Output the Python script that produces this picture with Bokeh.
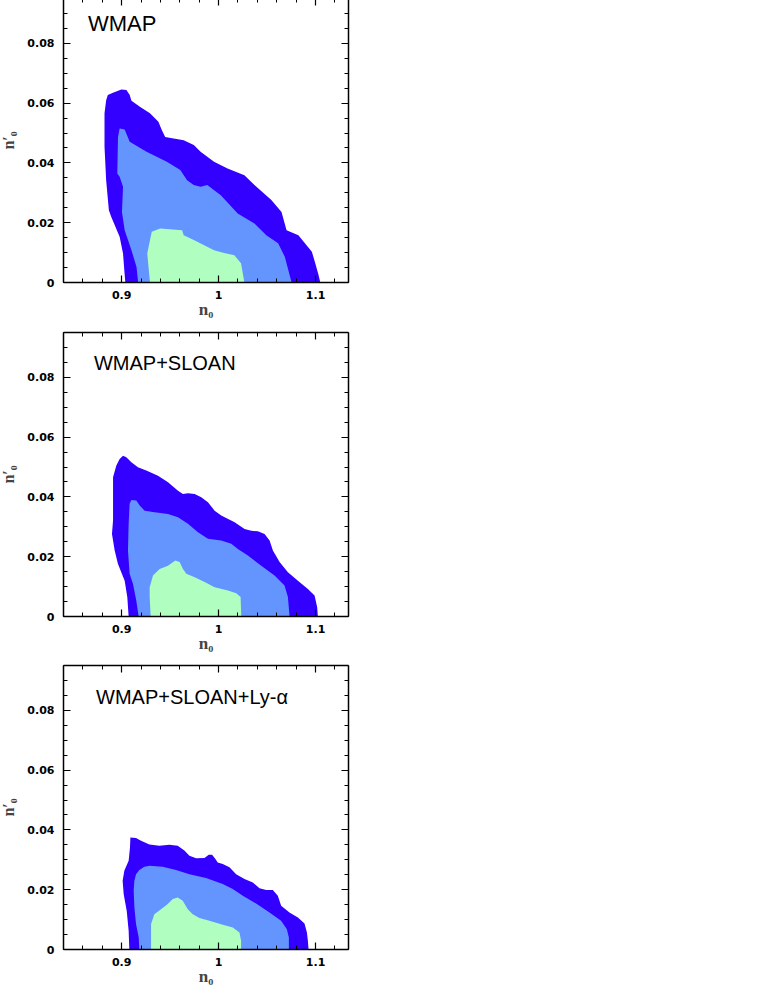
from bokeh.plotting import figure
from bokeh.models import LinearAxis, FixedTicker, CustomJSTickFormatter, Label, Range1d, ColumnDataSource
from bokeh.layouts import column
from bokeh.embed import file_html
from bokeh.resources import INLINE

# ---------------- data ----------------
panel_titles = ["WMAP", "WMAP+SLOAN", "WMAP+SLOAN+Ly-\u03b1"]
x_label = "n\u2080"
y_label = "n\u2032\u2080"
x_major_ticks = [0.9, 1.0, 1.1]
y_major_ticks = [0.0, 0.02, 0.04, 0.06, 0.08]
x_minor_step = 0.02
y_minor_step = 0.005

# WMAP
wmap_outer_x = [0.9038, 0.9030, 0.9014, 0.8979, 0.8892, 0.8868, 0.8840, 0.8823, 0.8823, 0.8840,
                0.8857, 0.8910, 0.8997, 0.9049, 0.9083, 0.9101, 0.9188, 0.9292, 0.9379, 0.9414,
                0.9449, 0.9536, 0.9640, 0.9744, 0.9814, 0.9953, 1.0092, 1.0266, 1.0370, 1.0544,
                1.0649, 1.0701, 1.0823, 1.0962, 1.0997, 1.1031, 1.1049]
wmap_outer_y = [0.0, 0.0030, 0.0097, 0.0153, 0.0220, 0.0242, 0.0342, 0.0454, 0.0566, 0.0610,
                0.0627, 0.0635, 0.0646, 0.0644, 0.0627, 0.0608, 0.0588, 0.0566, 0.0538, 0.0510,
                0.0487, 0.0482, 0.0476, 0.0460, 0.0437, 0.0404, 0.0381, 0.0359, 0.0326, 0.0276,
                0.0236, 0.0175, 0.0158, 0.0103, 0.0064, 0.0025, 0.0]
wmap_mid_x = [0.9170, 0.9153, 0.9101, 0.9031, 0.9003, 0.9014, 0.8979, 0.8955, 0.8962, 0.8979,
              0.9031, 0.9083, 0.9257, 0.9466, 0.9605, 0.9675, 0.9744, 0.9814, 0.9883, 1.0023,
              1.0197, 1.0370, 1.0492, 1.0614, 1.0683, 1.0753]
wmap_mid_y = [0.0, 0.0052, 0.0108, 0.0175, 0.0236, 0.0320, 0.0354, 0.0365, 0.0487, 0.0515,
              0.0512, 0.0471, 0.0437, 0.0404, 0.0376, 0.0342, 0.0326, 0.0320, 0.0326, 0.0292,
              0.0231, 0.0197, 0.0158, 0.0131, 0.0086, 0.0]
wmap_inner_x = [0.9292, 0.9264, 0.9310, 0.9397, 0.9623, 0.9640, 0.9744, 0.9953, 1.0057, 1.0162,
                1.0231, 1.0266]
wmap_inner_y = [0.0, 0.0097, 0.0170, 0.0181, 0.0175, 0.0158, 0.0142, 0.0108, 0.0099, 0.0091,
                0.0064, 0.0]

# WMAP+SLOAN
sloan_outer_x = [0.9072, 0.9058, 0.9031, 0.8962, 0.8928, 0.8900, 0.8911, 0.8911, 0.8911, 0.8945,
                 0.8979, 0.9014, 0.9048, 0.9100, 0.9168, 0.9254, 0.9375, 0.9478, 0.9581, 0.9632,
                 0.9684, 0.9753, 0.9821, 0.9890, 0.9959, 1.0027, 1.0165, 1.0268, 1.0337, 1.0405,
                 1.0474, 1.0526, 1.0560, 1.0629, 1.0715, 1.0818, 1.0921, 1.0990, 1.1017, 1.1024]
sloan_outer_y = [0.0, 0.0065, 0.0120, 0.0176, 0.0221, 0.0276, 0.0321, 0.0410, 0.0466, 0.0505,
                 0.0527, 0.0538, 0.0533, 0.0516, 0.0499, 0.0488, 0.0471, 0.0449, 0.0421, 0.0410,
                 0.0412, 0.0410, 0.0399, 0.0382, 0.0354, 0.0338, 0.0315, 0.0293, 0.0287, 0.0285,
                 0.0276, 0.0254, 0.0221, 0.0182, 0.0148, 0.0120, 0.0092, 0.0070, 0.0031, 0.0]
sloan_mid_x = [0.9175, 0.9151, 0.9117, 0.9082, 0.9065, 0.9072, 0.9082, 0.9100, 0.9151, 0.9186,
               0.9237, 0.9340, 0.9478, 0.9581, 0.9684, 0.9787, 0.9890, 1.0027, 1.0131, 1.0199,
               1.0302, 1.0440, 1.0577, 1.0680, 1.0715, 1.0732]
sloan_mid_y = [0.0, 0.0053, 0.0109, 0.0143, 0.0221, 0.0310, 0.0377, 0.0390, 0.0388, 0.0371,
               0.0354, 0.0349, 0.0343, 0.0332, 0.0310, 0.0282, 0.0260, 0.0254, 0.0243, 0.0226,
               0.0204, 0.0170, 0.0137, 0.0104, 0.0065, 0.0]
sloan_inner_x = [0.9299, 0.9289, 0.9289, 0.9323, 0.9392, 0.9478, 0.9553, 0.9598, 0.9632, 0.9667,
                 0.9753, 0.9856, 0.9959, 1.0096, 1.0182, 1.0227, 1.0234]
sloan_inner_y = [0.0, 0.0065, 0.0098, 0.0137, 0.0159, 0.0170, 0.0187, 0.0182, 0.0159, 0.0143,
                 0.0131, 0.0115, 0.0098, 0.0087, 0.0078, 0.0065, 0.0]

# WMAP+SLOAN+Ly-alpha
lya_outer_x = [0.9079, 0.9072, 0.9052, 0.9021, 0.9010, 0.9028, 0.9072, 0.9086, 0.9090, 0.9148,
               0.9200, 0.9286, 0.9389, 0.9492, 0.9578, 0.9647, 0.9699, 0.9768, 0.9854, 0.9898,
               0.9933, 0.9967, 0.9991, 1.0043, 1.0112, 1.0181, 1.0267, 1.0353, 1.0422, 1.0491,
               1.0559, 1.0611, 1.0645, 1.0731, 1.0818, 1.0886, 1.0911, 1.0921, 1.0928]
lya_outer_y = [0.0, 0.0063, 0.0130, 0.0185, 0.0230, 0.0264, 0.0297, 0.0342, 0.0375, 0.0373,
               0.0364, 0.0351, 0.0347, 0.0350, 0.0347, 0.0331, 0.0314, 0.0305, 0.0306, 0.0317,
               0.0317, 0.0303, 0.0291, 0.0286, 0.0275, 0.0252, 0.0236, 0.0224, 0.0205, 0.0199,
               0.0199, 0.0180, 0.0146, 0.0124, 0.0107, 0.0087, 0.0057, 0.0029, 0.0]
lya_mid_x = [0.9182, 0.9176, 0.9148, 0.9131, 0.9124, 0.9131, 0.9148, 0.9182, 0.9234, 0.9286,
             0.9423, 0.9561, 0.9699, 0.9871, 1.0043, 1.0146, 1.0250, 1.0387, 1.0525, 1.0645,
             1.0704, 1.0725, 1.0725]
lya_mid_y = [0.0, 0.0040, 0.0085, 0.0141, 0.0197, 0.0230, 0.0252, 0.0266, 0.0277, 0.0280,
             0.0277, 0.0266, 0.0252, 0.0239, 0.0219, 0.0202, 0.0180, 0.0154, 0.0124, 0.0096,
             0.0068, 0.0040, 0.0]
lya_inner_x = [0.9303, 0.9303, 0.9337, 0.9406, 0.9475, 0.9527, 0.9578, 0.9630, 0.9682, 0.9733,
               0.9802, 0.9905, 1.0043, 1.0146, 1.0215, 1.0232, 1.0232]
lya_inner_y = [0.0, 0.0085, 0.0118, 0.0135, 0.0152, 0.0169, 0.0174, 0.0163, 0.0135, 0.0118,
               0.0105, 0.0096, 0.0083, 0.0074, 0.0057, 0.0029, 0.0]

# ---------------- styling ----------------
C_OUTER = "#3300ff"
C_MID = "#6495ff"
C_INNER = "#b0ffc0"

X_RANGE = (0.84, 1.134)
Y_RANGE = (0.0, 0.095)

x_minor = [round(0.84 + x_minor_step * k, 3) for k in range(16)]
y_minor = [round(y_minor_step * k, 3) for k in range(20)]

num_fmt = CustomJSTickFormatter(code="return Number(tick.toFixed(3)).toString();")


def style_axis(ax, labels=True):
    ax.axis_line_color = "black"
    ax.axis_line_width = 1.5
    ax.major_tick_in = 7
    ax.major_tick_out = 0
    ax.minor_tick_in = 4
    ax.minor_tick_out = 0
    ax.major_tick_line_width = 1.2
    ax.minor_tick_line_width = 1.0
    ax.major_tick_line_color = "black"
    ax.minor_tick_line_color = "black"
    if labels:
        ax.major_label_text_font = "DejaVu Sans"
        ax.major_label_text_font_style = "bold"
        ax.major_label_text_font_size = "11px"
        ax.major_label_text_color = "black"
        ax.formatter = num_fmt
    else:
        ax.major_label_text_font_size = "0px"
        ax.major_label_standoff = 0
        ax.formatter = CustomJSTickFormatter(code="return '';")


def make_panel(title, tx, ty, tsize, layers, min_top, min_bottom, min_left):
    p = figure(frame_width=285, frame_height=284,
               x_range=Range1d(*X_RANGE), y_range=Range1d(*Y_RANGE),
               output_backend="svg", toolbar_location=None,
               min_border_left=min_left, min_border_right=10,
               min_border_top=min_top, min_border_bottom=min_bottom)
    p.grid.visible = False
    p.outline_line_color = None
    p.background_fill_color = "white"
    p.border_fill_color = "white"

    for (xs, ys, col) in layers:
        src = ColumnDataSource(dict(x=xs, y=ys))
        p.patch("x", "y", source=src, fill_color=col, line_color=None)

    xt = FixedTicker(ticks=x_major_ticks, minor_ticks=x_minor)
    yt = FixedTicker(ticks=y_major_ticks, minor_ticks=y_minor)

    xa = p.xaxis[0]
    xa.ticker = xt
    style_axis(xa)
    xa.major_label_standoff = 8
    xa.axis_label = x_label
    xa.axis_label_text_font = "Liberation Serif"
    xa.axis_label_text_font_style = "bold"
    xa.axis_label_text_font_size = "17px"
    xa.axis_label_standoff = -2

    ya = p.yaxis[0]
    ya.ticker = yt
    style_axis(ya)
    ya.major_label_standoff = 9
    ya.axis_label = y_label
    ya.axis_label_text_font = "Liberation Serif"
    ya.axis_label_text_font_style = "bold"
    ya.axis_label_text_font_size = "16px"
    ya.axis_label_standoff = 7

    top = LinearAxis(ticker=FixedTicker(ticks=x_major_ticks, minor_ticks=x_minor))
    style_axis(top, labels=False)
    p.add_layout(top, "above")
    right = LinearAxis(ticker=FixedTicker(ticks=y_major_ticks, minor_ticks=y_minor))
    style_axis(right, labels=False)
    p.add_layout(right, "right")

    p.add_layout(Label(x=tx, y=ty, text=title, text_font="Liberation Sans",
                       text_font_size=tsize, text_color="black",
                       text_baseline="alphabetic", text_align="left"))
    return p


p1 = make_panel(panel_titles[0], 0.8653, 0.0866, "22px",
                [(wmap_outer_x, wmap_outer_y, C_OUTER),
                 (wmap_mid_x, wmap_mid_y, C_MID),
                 (wmap_inner_x, wmap_inner_y, C_INNER)],
                min_top=0, min_bottom=46, min_left=63)
p2 = make_panel(panel_titles[1], 0.8714, 0.0847, "20px",
                [(sloan_outer_x, sloan_outer_y, C_OUTER),
                 (sloan_mid_x, sloan_mid_y, C_MID),
                 (sloan_inner_x, sloan_inner_y, C_INNER)],
                min_top=4, min_bottom=45, min_left=65)
p3 = make_panel(panel_titles[2], 0.8736, 0.0843, "20px",
                [(lya_outer_x, lya_outer_y, C_OUTER),
                 (lya_mid_x, lya_mid_y, C_MID),
                 (lya_inner_x, lya_inner_y, C_INNER)],
                min_top=4, min_bottom=36, min_left=64)

layout = column(p1, p2, p3, margin=(-2, 0, -20, -3))

open("out.html", "w").write(file_html(layout, INLINE))
